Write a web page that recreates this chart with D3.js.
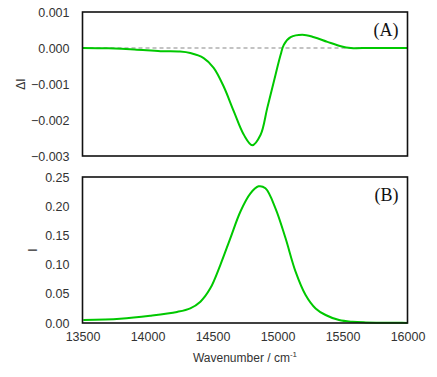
<!DOCTYPE html>
<meta charset="utf-8">
<script src="https://d3js.org/d3.v7.min.js"></script>
<style>
  body { margin: 0; background: #fff; }
  text { font-family: "Liberation Sans", Arial, sans-serif; }
</style>
<div id="my_dataviz"></div>
<script>
  // wavenumber axis ticks
  var xTicks = [13500, 14000, 14500, 15000, 15500, 16000];

  // panel A: difference spectrum (ΔI)
  var diffWn = [13500, 13700, 13900, 14100, 14250, 14329, 14432, 14509, 14586, 14664, 14741, 14806, 14870, 14921, 14972, 15024, 15049, 15101, 15191, 15281, 15384, 15487, 15564, 15700, 15850, 16000];
  var diffVal = [0, -0.00001, -0.00004, -0.00009, -0.00010, -0.00014, -0.00028, -0.00055, -0.00107, -0.00176, -0.00241, -0.00270, -0.00241, -0.00167, -0.00093, -0.00019, 0.00009, 0.00030, 0.00037, 0.00030, 0.00017, 0.00005, 0.0, 0.0, 0.0, 0.0];
  var diffTicks = [0.001, 0.000, -0.001, -0.002, -0.003];

  // panel B: intensity spectrum (I)
  var intWn = [13506, 13789, 14020, 14227, 14329, 14407, 14483, 14560, 14637, 14715, 14792, 14854, 14907, 14985, 15062, 15139, 15216, 15293, 15370, 15474, 15577, 15680, 15950, 16000];
  var intVal = [0.005, 0.0074, 0.0125, 0.019, 0.0251, 0.0365, 0.0593, 0.0993, 0.145, 0.191, 0.222, 0.234, 0.2306, 0.196, 0.145, 0.088, 0.048, 0.025, 0.0137, 0.005, 0.002, 0.001, 0.0003, 0.0002];
  var intTicks = [0.00, 0.05, 0.10, 0.15, 0.20, 0.25];

  var W = 437, H = 377;
  var svg = d3.select("#my_dataviz")
    .append("svg")
    .attr("width", W)
    .attr("height", H);

  var x = d3.scaleLinear().domain([13500, 16000]).range([82.5, 407.5]);

  var green = "#00c800";

  function panel(top, bottom, domain, ticks, fmt, wn, vals, label, yTitle, titleX, zeroLine) {
    var y = d3.scaleLinear().domain(domain).range([bottom, top]);
    var g = svg.append("g");

    if (zeroLine) {
      g.append("line")
        .attr("x1", x(13500)).attr("x2", x(16000))
        .attr("y1", y(0)).attr("y2", y(0))
        .attr("stroke", "#b0b0b0")
        .attr("stroke-width", 1.3)
        .attr("stroke-dasharray", "4,3");
    }

    var pts = wn.map(function(d, i) { return [d, vals[i]]; });
    g.append("path")
      .datum(pts)
      .attr("fill", "none")
      .attr("stroke", green)
      .attr("stroke-width", 2)
      .attr("d", d3.line()
        .x(function(d) { return x(d[0]); })
        .y(function(d) { return y(d[1]); })
        .curve(d3.curveCatmullRom.alpha(0.5)));

    // frame
    g.append("rect")
      .attr("x", x(13500)).attr("y", top)
      .attr("width", x(16000) - x(13500))
      .attr("height", bottom - top)
      .attr("fill", "none")
      .attr("stroke", "#111")
      .attr("stroke-width", 1.6);

    // y tick labels
    var yAxis = d3.axisLeft(y).tickValues(ticks).tickFormat(d3.format(fmt)).tickSize(0).tickPadding(13);
    var ya = g.append("g").attr("transform", "translate(" + x(13500) + ",0)").call(yAxis);
    ya.select(".domain").remove();
    ya.selectAll("text")
      .style("font-size", "12.5px")
      .style("font-family", "'Liberation Sans', Arial, sans-serif")
      .attr("fill", "#333");

    // y title
    g.append("text")
      .attr("transform", "translate(" + titleX + "," + ((top + bottom) / 2) + ") rotate(-90)")
      .attr("text-anchor", "middle")
      .attr("dy", "0.35em")
      .style("font-size", "12px")
      .attr("fill", "#333")
      .text(yTitle);

    // panel label
    g.append("text")
      .attr("x", x(16000) - 9)
      .attr("y", top + 24)
      .attr("text-anchor", "end")
      .style("font-family", "'Liberation Serif', 'Times New Roman', serif")
      .style("font-size", "18px")
      .attr("fill", "#111")
      .text(label);

    return y;
  }

  panel(12, 156, [-0.003, 0.001], diffTicks, ".3f", diffWn, diffVal, "(A)", "ΔI", 21, true);
  panel(177, 323, [0, 0.25], intTicks, ".2f", intWn, intVal, "(B)", "I", 33, false);

  // x axis (bottom panel)
  var xAxis = d3.axisBottom(x).tickValues(xTicks).tickFormat(d3.format("d")).tickSize(0).tickPadding(9);
  var xa = svg.append("g").attr("transform", "translate(0,323)").call(xAxis);
  xa.select(".domain").remove();
  xa.selectAll("text")
    .style("font-size", "12.5px")
    .style("font-family", "'Liberation Sans', Arial, sans-serif")
    .attr("fill", "#333");

  var xt = svg.append("text")
    .attr("x", 245)
    .attr("y", 362)
    .attr("text-anchor", "middle")
    .style("font-size", "12px")
    .attr("fill", "#333");
  xt.append("tspan").text("Wavenumber / cm");
  xt.append("tspan").attr("dy", "-5").style("font-size", "8px").text("-1");
</script>
